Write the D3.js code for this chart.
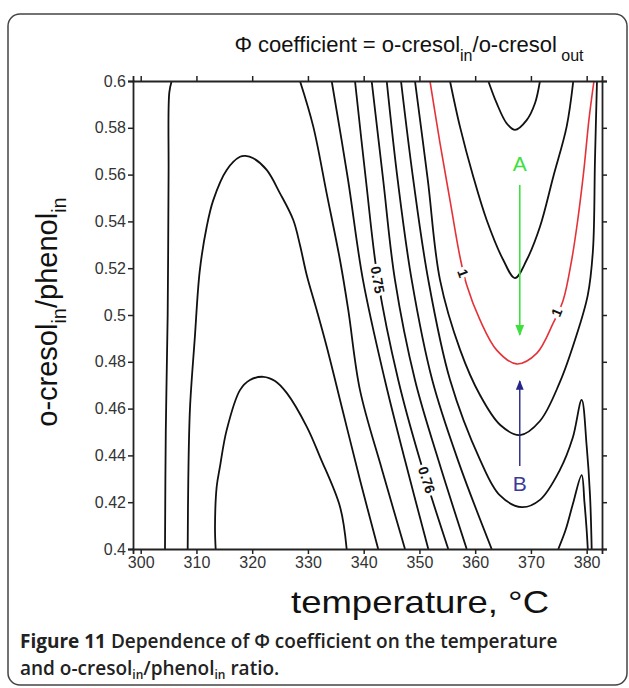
<!DOCTYPE html>
<html>
<head>
<meta charset="utf-8">
<script src="https://cdn.jsdelivr.net/npm/d3@7"></script>
<style>
  body { margin: 0; background: #fff; overflow: hidden; }
  svg { display: block; }
</style>
</head>
<body>
<svg id="chart"></svg>
<script>
// axis ticks
const xTicks = [300, 310, 320, 330, 340, 350, 360, 370, 380];
const yTicks = [0.4, 0.42, 0.44, 0.46, 0.48, 0.5, 0.52, 0.54, 0.56, 0.58, 0.6];
const yTickLabels = ['0.4', '0.42', '0.44', '0.46', '0.48', '0.5', '0.52', '0.54', '0.56', '0.58', '0.6'];

// contour lines, [temperature, ratio]
const leftEdge = [[305.56, 0.6], [305.13, 0.595], [305.0, 0.56], [304.84, 0.5], [304.5, 0.45], [304.36, 0.4]];
const archOuter = [[308.43, 0.4], [308.54, 0.43], [308.84, 0.46], [309.7, 0.49], [310.6, 0.519], [311.84, 0.5377],
  [313.02, 0.5491], [315.43, 0.562], [317.81, 0.5676], [318.8, 0.568], [320.2, 0.567], [322.6, 0.562],
  [324.99, 0.552], [327.37, 0.5406], [328.57, 0.5299], [329.78, 0.5171], [331.57, 0.5021], [333.36, 0.4865],
  [336.34, 0.4581], [339.34, 0.4295], [342.6, 0.4]];
const archInner = [[313.45, 0.4], [313.33, 0.4095], [313.63, 0.4266], [314.22, 0.4352], [315.43, 0.4509],
  [317.81, 0.4679], [319.6, 0.4722], [321.99, 0.4736], [324.1, 0.4718], [326.19, 0.4667], [329.78, 0.4523],
  [332.16, 0.4394], [335.75, 0.4181], [336.95, 0.4]];
const diag1 = [[328.57, 0.6], [330.96, 0.5805], [333.36, 0.552], [335.75, 0.5235], [337.24, 0.5021],
  [339.34, 0.4679], [343.3, 0.4338], [347.41, 0.4]];
const diag2 = [[334.26, 0.6], [337.2, 0.5577], [339.87, 0.515], [343.8, 0.4722], [347.4, 0.438], [351.59, 0.4]];
const diag3 = [[338.44, 0.6], [340.4, 0.5577], [342.56, 0.515], [346.2, 0.4722], [350.1, 0.438], [355.17, 0.4]];
const diag4 = [[341.43, 0.6], [343.5, 0.5577], [345.61, 0.515], [349.2, 0.4722], [353.4, 0.438], [358.48, 0.4]];
const diag5 = [[344.13, 0.6], [346.1, 0.5577], [348.61, 0.515], [352.3, 0.4722], [356.9, 0.438], [362.96, 0.4]];
const uOuter4 = [[346.69, 0.6], [348.9, 0.5577], [351.59, 0.515], [355.5, 0.4722], [360.9, 0.438], [364.4, 0.423],
  [368.34, 0.4179], [371.62, 0.421], [375.2, 0.4338], [377.5, 0.4475], [379.1, 0.4637], [380.0, 0.444],
  [380.6, 0.423], [380.9, 0.4]];
const uOuter3 = [[349.2, 0.6], [351.5, 0.5577], [353.69, 0.515], [357.3, 0.4851], [360.86, 0.4658],
  [364.5, 0.4530], [368.04, 0.4487], [371.62, 0.4547], [375.21, 0.4714], [377.9, 0.4893], [380.2, 0.5085],
  [381.13, 0.5278], [381.49, 0.5662], [381.85, 0.6]];
const uRed = [[351.89, 0.6], [353.69, 0.5735], [355.48, 0.5491], [357.27, 0.5249], [358.48, 0.5128],
  [360.86, 0.4979], [363.86, 0.485], [367.44, 0.4791], [371.03, 0.4836], [374.01, 0.4966], [375.8, 0.5064],
  [377.31, 0.5235], [378.4, 0.5406], [379.5, 0.5620], [380.4, 0.5833], [381.31, 0.6]];
const uInner = [[355.48, 0.6], [357.27, 0.5805], [359.66, 0.5591], [362.06, 0.5406], [365.04, 0.5235],
  [367.14, 0.5158], [369.24, 0.5235], [371.62, 0.5377], [374.01, 0.5591], [376.41, 0.5805], [377.6, 0.6]];
const uTop = [[362.35, 0.6], [363.86, 0.5905], [365.65, 0.5819], [367.14, 0.5791], [369.24, 0.5833],
  [370.73, 0.5905], [371.62, 0.6]];
const spikeLow = [[374.91, 0.4], [376.2, 0.408], [377.5, 0.419], [379.1, 0.4316], [379.6, 0.42],
  [380.0, 0.408], [380.2, 0.4]];

const contours = [leftEdge, archOuter, archInner, diag1, diag2, diag3, diag4, diag5,
  uOuter4, uOuter3, uInner, uTop, spikeLow];
const redContours = [uRed];

// contour labels: text, position, angle
const labelText = ['0.75', '0.76', '1', '1'];
const labelPos = [[342.5, 0.515], [351.3, 0.4295], [357.8, 0.5178], [374.6, 0.5011]];
const labelAngle = [80, 72, 70, -68];

// arrows
const arrowA = [[368.0, 0.5556], [368.0, 0.4915]];
const arrowB = [[368.0, 0.4355], [368.0, 0.4718]];
const arrowLabels = [['A', 368.0, 0.5645], ['B', 368.0, 0.4278]];

const width = 629;
const height = 688;
const margin = { top: 81, right: 27, bottom: 139, left: 133 };
const innerWidth = width - margin.left - margin.right;
const innerHeight = height - margin.top - margin.bottom;

const svg = d3.select('#chart')
  .attr('width', width)
  .attr('height', height)
  .style('font-family', '"Liberation Sans", Arial, sans-serif');

// outer rounded frame
svg.append('rect')
  .attr('x', 8).attr('y', 14)
  .attr('width', 619).attr('height', 671)
  .attr('rx', 12)
  .attr('fill', 'none')
  .attr('stroke', '#444')
  .attr('stroke-width', 1.5);

const xScale = d3.scaleLinear().domain([298.62, 382.75]).range([0, innerWidth]);
const yScale = d3.scaleLinear().domain([0.4, 0.6]).range([innerHeight, 0]);

const g = svg.append('g').attr('transform', `translate(${margin.left}, ${margin.top})`);

g.append('clipPath').attr('id', 'clip')
  .append('rect').attr('width', innerWidth).attr('height', innerHeight);

const line = d3.line()
  .x(d => xScale(d[0]))
  .y(d => yScale(d[1]))
  .curve(d3.curveCatmullRom.alpha(0.5));

const plot = g.append('g').attr('clip-path', 'url(#clip)');

plot.selectAll('path.black')
  .data(contours)
  .enter()
  .append('path')
  .attr('class', 'black')
  .attr('d', line)
  .attr('fill', 'none')
  .attr('stroke', '#111')
  .attr('stroke-width', 1.8);

plot.selectAll('path.red')
  .data(redContours)
  .enter()
  .append('path')
  .attr('class', 'red')
  .attr('d', line)
  .attr('fill', 'none')
  .attr('stroke', '#e53238')
  .attr('stroke-width', 1.6);

// contour labels with white halo breaking the line
g.selectAll('text.lab')
  .data(labelText)
  .enter()
  .append('text')
  .attr('class', 'lab')
  .attr('transform', (d, i) => `translate(${xScale(labelPos[i][0])}, ${yScale(labelPos[i][1])}) rotate(${labelAngle[i]})`)
  .attr('text-anchor', 'middle')
  .attr('dy', '0.35em')
  .attr('font-size', 14)
  .attr('font-weight', 'bold')
  .attr('stroke', '#fff')
  .attr('stroke-width', 6)
  .attr('paint-order', 'stroke')
  .attr('fill', '#111')
  .text(d => d);

// arrows
const defs = svg.append('defs');
[['headA', '#3ee03e'], ['headB', '#26268a']].forEach(([id, c]) => {
  defs.append('marker')
    .attr('id', id)
    .attr('viewBox', '0 0 10 10')
    .attr('refX', 9).attr('refY', 5)
    .attr('markerWidth', 7).attr('markerHeight', 7)
    .attr('orient', 'auto')
    .append('path')
    .attr('d', 'M0,1 L10,5 L0,9 Z')
    .attr('fill', c);
});

const straight = d3.line().x(d => xScale(d[0])).y(d => yScale(d[1]));
g.append('path')
  .attr('d', straight(arrowA))
  .attr('stroke', '#3ee03e').attr('stroke-width', 1.6)
  .attr('marker-end', 'url(#headA)');
g.append('path')
  .attr('d', straight(arrowB))
  .attr('stroke', '#26268a').attr('stroke-width', 1.4)
  .attr('marker-end', 'url(#headB)');

g.selectAll('text.arr')
  .data(arrowLabels)
  .enter()
  .append('text')
  .attr('class', 'arr')
  .attr('x', d => xScale(d[1]))
  .attr('y', d => yScale(d[2]))
  .attr('text-anchor', 'middle')
  .attr('dy', '0.35em')
  .attr('font-size', 21)
  .attr('fill', (d, i) => i === 0 ? '#3ee03e' : '#3a3a9a')
  .text(d => d[0]);

// axes
const xAxis = d3.axisBottom(xScale).tickValues(xTicks).tickSize(5).tickPadding(3);
const yAxis = d3.axisLeft(yScale).tickValues(yTicks).tickSize(5).tickPadding(2)
  .tickFormat((d, i) => yTickLabels[i]);

g.append('g')
  .attr('transform', `translate(0, ${innerHeight})`)
  .call(xAxis);
g.append('g').call(yAxis);

const topAxis = g.append('g').call(d3.axisTop(xScale).tickValues(xTicks).tickSize(5));
topAxis.selectAll('.tick text').remove();
const rightAxis = g.append('g').attr('transform', `translate(${innerWidth}, 0)`)
  .call(d3.axisRight(yScale).tickValues(yTicks).tickSize(5));
rightAxis.selectAll('.tick text').remove();

g.selectAll('.domain').attr('stroke', '#222').attr('stroke-width', 1.8);
g.selectAll('.tick line').attr('stroke', '#222').attr('stroke-width', 1.5);
g.selectAll('.tick text')
  .attr('font-family', '"Liberation Sans", Arial, sans-serif')
  .attr('font-size', 16)
  .attr('fill', '#333');

// title
const title = svg.append('text')
  .attr('x', 409)
  .attr('y', 52)
  .attr('text-anchor', 'middle')
  .attr('font-size', 22)
  .attr('fill', '#111');
title.append('tspan').text('\u03A6 coefficient = o-cresol');
title.append('tspan').attr('font-size', 16).attr('dy', 9).text('in');
title.append('tspan').attr('dy', -9).text('/o-cresol');
title.append('tspan').attr('font-size', 16).attr('dy', 9).text(' out');

// y axis title
const ylab = svg.append('text')
  .attr('transform', 'translate(57, 312) rotate(-90)')
  .attr('text-anchor', 'middle')
  .attr('font-size', 29)
  .attr('fill', '#111');
ylab.append('tspan').text('o-cresol');
ylab.append('tspan').attr('font-size', 20).attr('dy', 9).text('in');
ylab.append('tspan').attr('dy', -9).text('/phenol');
ylab.append('tspan').attr('font-size', 20).attr('dy', 9).text('in');

// x axis title
svg.append('text')
  .attr('x', 420)
  .attr('y', 613)
  .attr('text-anchor', 'middle')
  .attr('font-size', 32)
  .attr('textLength', 258)
  .attr('lengthAdjust', 'spacingAndGlyphs')
  .attr('fill', '#111')
  .text('temperature, \u00B0C');

// caption
const cap1 = svg.append('text')
  .attr('x', 20).attr('y', 648)
  .attr('font-family', '"Open Sans", "Noto Sans", sans-serif')
  .attr('font-size', 19)
  .attr('fill', '#222');
cap1.append('tspan').attr('font-weight', 'bold').text('Figure 11');
cap1.append('tspan').attr('font-weight', 600).text(' Dependence of \u03A6 coefficient on the temperature');

const cap2 = svg.append('text')
  .attr('x', 20).attr('y', 675)
  .attr('font-family', '"Open Sans", "Noto Sans", sans-serif')
  .attr('font-size', 19)
  .attr('font-weight', 600)
  .attr('fill', '#222');
cap2.append('tspan').text('and o-cresol');
cap2.append('tspan').attr('font-size', 12).attr('dy', 4).text('in');
cap2.append('tspan').attr('dy', -4).text('/phenol');
cap2.append('tspan').attr('font-size', 12).attr('dy', 4).text('in');
cap2.append('tspan').attr('dy', -4).text(' ratio.');
</script>
</body>
</html>
